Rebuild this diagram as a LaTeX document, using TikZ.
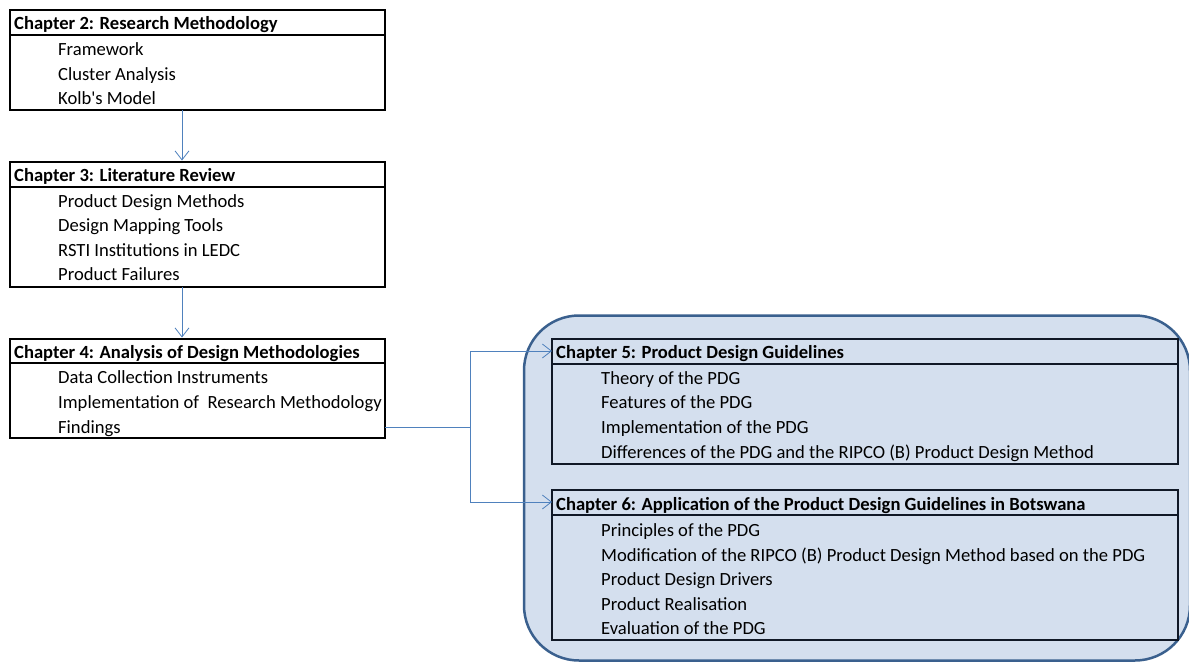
\documentclass[tikz,border=0pt]{standalone}
\usepackage{fontspec}
\setmainfont{Carlito}
\newfontfamily\plainquote{Carlito}
\usetikzlibrary{arrows.meta}
\definecolor{connc}{RGB}{79,129,189}
\definecolor{grpfill}{RGB}{212,223,238}
\definecolor{grpline}{RGB}{58,96,142}
\definecolor{boxline}{RGB}{16,24,38}
\begin{document}
\begin{tikzpicture}[x=1pt,y=-1pt,
  box/.style={draw=black,line width=2.6pt,inner sep=0pt,outer sep=0pt,anchor=north west},
  rbox/.style={draw=boxline,line width=2.6pt,inner sep=0pt,outer sep=0pt,anchor=north west},
  sep/.style={line width=1.6pt},
  head/.style={anchor=west,font=\bfseries\fontsize{18.6}{20}\selectfont,inner sep=0pt,text height=15pt,text depth=2.5pt},
  item/.style={anchor=west,font=\fontsize{18.6}{20}\selectfont,inner sep=0pt,text height=15pt,text depth=2.5pt},
  conn/.style={draw=connc,line width=1pt},
  tip/.style={-{Straight Barb[length=9pt,width=14pt,line width=0.8pt]}}
]
\useasboundingbox (0,0) rectangle (1189,664);

% group background
\node[draw=grpline,fill=grpfill,line width=2.5pt,rounded corners=55pt,minimum width=666pt,minimum height=345pt,inner sep=0pt,outer sep=0pt,anchor=north west] (grp) at (524,315.5) {};

% Chapter 2
\node[box,minimum width=375pt,minimum height=100pt] (ch2) at (10,10) {};
\draw[sep] (10,35) -- (385,35);
\node[head] (ch2h) at (14,23.5) {Chapter 2: Research Methodology};
\node[item] (ch2a) at (58,49) {Framework};
\node[item] (ch2b) at (58,74) {Cluster Analysis};
\node[item] (ch2c) at (58,98) {{\plainquote Kolb's} Model};

% Chapter 3
\node[box,minimum width=375pt,minimum height=125pt] (ch3) at (10,162) {};
\draw[sep] (10,187) -- (385,187);
\node[head] (ch3h) at (14,175.5) {Chapter 3: Literature Review};
\node[item] (ch3a) at (58,201) {Product Design Methods};
\node[item] (ch3b) at (58,225) {Design Mapping Tools};
\node[item] (ch3c) at (58,250) {RSTI Institutions in LEDC};
\node[item] (ch3d) at (58,274) {Product Failures};

% Chapter 4
\node[box,minimum width=375pt,minimum height=99pt] (ch4) at (10,339) {};
\draw[sep] (10,363) -- (385,363);
\node[head] (ch4h) at (14,352) {Chapter 4: Analysis of Design Methodologies};
\node[item] (ch4a) at (58,377) {Data Collection Instruments};
\node[item] (ch4b) at (58,402) {Implementation of\ \ Research Methodology};
\node[item] (ch4c) at (58,427) {Findings};

% Chapter 5
\node[rbox,minimum width=626pt,minimum height=125pt] (ch5) at (552,339) {};
\draw[sep,draw=boxline] (552,364) -- (1178,364);
\node[head] (ch5h) at (556,352.5) {Chapter 5: Product Design Guidelines};
\node[item] (ch5a) at (601,378) {Theory of the PDG};
\node[item] (ch5b) at (601,402) {Features of the PDG};
\node[item] (ch5c) at (601,427) {Implementation of the PDG};
\node[item] (ch5d) at (601,452) {Differences of the PDG and the RIPCO (B) Product Design Method};

% Chapter 6
\node[rbox,minimum width=626pt,minimum height=150pt] (ch6) at (552,490) {};
\draw[sep,draw=boxline] (552,515) -- (1178,515);
\node[head] (ch6h) at (556,504) {Chapter 6: Application of the Product Design Guidelines in Botswana};
\node[item] (ch6a) at (601,530) {Principles of the PDG};
\node[item] (ch6b) at (601,555) {Modification of the RIPCO (B) Product Design Method based on the PDG};
\node[item] (ch6c) at (601,579) {Product Design Drivers};
\node[item] (ch6d) at (601,604) {Product Realisation};
\node[item] (ch6e) at (601,628) {Evaluation of the PDG};

% connectors
\coordinate (ax) at (182,0);
\coordinate (jx) at (470,0);
\draw[conn,tip] (ch2.south -| ax) -- ([yshift=1.5pt]ch3.north -| ax);
\draw[conn,tip] (ch3.south -| ax) -- ([yshift=1.5pt]ch4.north -| ax);
\draw[conn] ([yshift=11pt]ch4.south east) coordinate (s4) -- (s4 -| jx) coordinate (j1);
\draw[conn,tip] (j1) |- ([yshift=-12pt]ch5.north west);
\draw[conn,tip] (j1) |- ([yshift=-12pt]ch6.north west);
\end{tikzpicture}
\end{document}
